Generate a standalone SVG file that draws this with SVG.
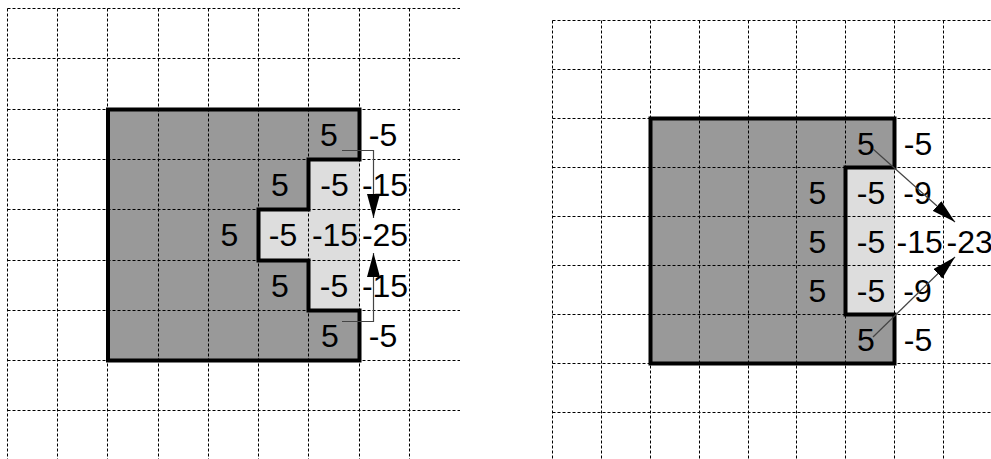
<svg xmlns="http://www.w3.org/2000/svg" width="991" height="459" viewBox="0 0 991 459">
<style>
.grid line{stroke:#000;stroke-width:1;stroke-dasharray:3,2}
.dark{fill:#999999}
.light{fill:#dddddd}
.outline{fill:none;stroke:#000;stroke-width:4;stroke-linejoin:miter}
text{font-family:"Liberation Sans",Arial,sans-serif;font-size:32px;fill:#000;text-anchor:middle}
.conn{fill:none;stroke:#444;stroke-width:1.2}
</style>
<defs>
<marker id="ah" viewBox="0 0 24 13" refX="24" refY="6.5" markerWidth="24" markerHeight="13" markerUnits="userSpaceOnUse" orient="auto">
<path d="M0,0 L24,6.5 L0,13 Z" fill="#000"/>
</marker>
</defs>
<rect width="991" height="459" fill="#fff"/>

<g id="left-shape">
<path class="dark" d="M108,109.5 H359.5 V360.5 H108 Z"/>
<path class="light" d="M308.5,159.5 H359.5 V310.5 H308.5 V260.5 H258.5 V209.5 H308.5 Z"/>
</g>
<g id="right-shape">
<path class="dark" d="M650.5,118.5 H894.5 V363.5 H650.5 Z"/>
<rect class="light" x="845.5" y="167.5" width="49" height="147"/>
</g>

<g id="left-grid" class="grid">
<line x1="7.5" y1="8.5" x2="7.5" y2="459"/>
<line x1="57.5" y1="8.5" x2="57.5" y2="459"/>
<line x1="107.5" y1="8.5" x2="107.5" y2="459"/>
<line x1="158.5" y1="8.5" x2="158.5" y2="459"/>
<line x1="208.5" y1="8.5" x2="208.5" y2="459"/>
<line x1="258.5" y1="8.5" x2="258.5" y2="459"/>
<line x1="308.5" y1="8.5" x2="308.5" y2="459"/>
<line x1="359.5" y1="8.5" x2="359.5" y2="459"/>
<line x1="409.5" y1="8.5" x2="409.5" y2="459"/>
<line x1="7.5" y1="8.5" x2="460" y2="8.5"/>
<line x1="7.5" y1="58.5" x2="460" y2="58.5"/>
<line x1="7.5" y1="109.5" x2="460" y2="109.5"/>
<line x1="7.5" y1="159.5" x2="460" y2="159.5"/>
<line x1="7.5" y1="209.5" x2="460" y2="209.5"/>
<line x1="7.5" y1="260.5" x2="460" y2="260.5"/>
<line x1="7.5" y1="310.5" x2="460" y2="310.5"/>
<line x1="7.5" y1="360.5" x2="460" y2="360.5"/>
<line x1="7.5" y1="410.5" x2="460" y2="410.5"/>
</g>
<g id="right-grid" class="grid">
<line x1="552.5" y1="20.5" x2="552.5" y2="459"/>
<line x1="601.5" y1="20.5" x2="601.5" y2="459"/>
<line x1="650.5" y1="20.5" x2="650.5" y2="459"/>
<line x1="699.5" y1="20.5" x2="699.5" y2="459"/>
<line x1="748.5" y1="20.5" x2="748.5" y2="459"/>
<line x1="796.5" y1="20.5" x2="796.5" y2="459"/>
<line x1="845.5" y1="20.5" x2="845.5" y2="459"/>
<line x1="894.5" y1="20.5" x2="894.5" y2="459"/>
<line x1="943.5" y1="20.5" x2="943.5" y2="459"/>
<line x1="552.5" y1="20.5" x2="991" y2="20.5"/>
<line x1="552.5" y1="69.5" x2="991" y2="69.5"/>
<line x1="552.5" y1="118.5" x2="991" y2="118.5"/>
<line x1="552.5" y1="167.5" x2="991" y2="167.5"/>
<line x1="552.5" y1="216.5" x2="991" y2="216.5"/>
<line x1="552.5" y1="265.5" x2="991" y2="265.5"/>
<line x1="552.5" y1="314.5" x2="991" y2="314.5"/>
<line x1="552.5" y1="363.5" x2="991" y2="363.5"/>
<line x1="552.5" y1="412.5" x2="991" y2="412.5"/>
</g>

<g id="left-outline">
<path class="outline" d="M108,109.5 H359.5 V159.5 H308.5 V209.5 H258.5 V260.5 H308.5 V310.5 H359.5 V360.5 H108 Z"/>
</g>
<g id="right-outline">
<path class="outline" d="M650.5,118.5 H894.5 V167.5 H845.5 V314.5 H894.5 V363.5 H650.5 Z"/>
</g>

<g id="left-labels">
<text x="329" y="145.5">5</text>
<text x="383" y="145.5">-5</text>
<text x="280" y="195.5">5</text>
<text x="334.5" y="195.5">-5</text>
<text x="385" y="195.5">-15</text>
<text x="229.5" y="246">5</text>
<text x="283" y="246">-5</text>
<text x="335" y="246">-15</text>
<text x="385" y="246">-25</text>
<text x="280" y="296.5">5</text>
<text x="334" y="296.5">-5</text>
<text x="385" y="296.5">-15</text>
<text x="330" y="346.5">5</text>
<text x="383" y="346.5">-5</text>
</g>
<g id="right-labels">
<text x="866" y="155">5</text>
<text x="918" y="155">-5</text>
<text x="817.5" y="203.5">5</text>
<text x="871" y="203.5">-5</text>
<text x="917.5" y="203.5">-9</text>
<text x="817.5" y="252.5">5</text>
<text x="871" y="252.5">-5</text>
<text x="919.7" y="252.5">-15</text>
<text x="969.7" y="252.5">-23</text>
<text x="817.5" y="301.5">5</text>
<text x="871" y="301.5">-5</text>
<text x="917.5" y="301.5">-9</text>
<text x="866" y="350.5">5</text>
<text x="918" y="350.5">-5</text>
</g>

<g id="connectors">
<path class="conn" d="M342,150.5 H373.5 V218" marker-end="url(#ah)"/>
<path class="conn" d="M342,321.5 H373.5 V253" marker-end="url(#ah)"/>
<path class="conn" d="M873,149 L955,222" marker-end="url(#ah)"/>
<path class="conn" d="M873,337 L955,257" marker-end="url(#ah)"/>
</g>
</svg>
